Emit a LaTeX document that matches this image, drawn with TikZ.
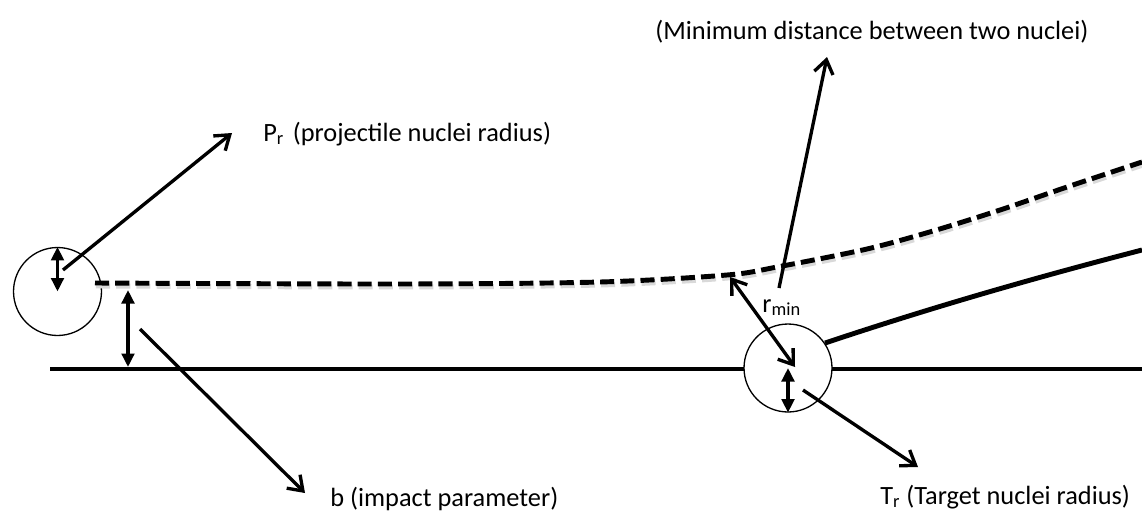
\documentclass[tikz,border=0pt]{standalone}
\usepackage{fontspec}
\setmainfont{Carlito}
\usetikzlibrary{arrows.meta}

\tikzset{
  nucleus/.style={circle,draw,line width=0.75pt,fill=white,minimum size=1.76cm,inner sep=0pt},
  barb/.tip={Straight Barb[length=2.7mm,width=3.8mm]},
  pointer/.style={-barb,line width=1.9pt},
  twoway/.style={barb-barb,line width=1.9pt},
  radarrow/.style={{Triangle[length=2.7mm,width=2.5mm]}-{Triangle[length=2.7mm,width=2.5mm]},line width=1.9pt},
  lbl/.style={inner sep=0pt,anchor=base west,font=\fontsize{15}{18}\selectfont},
  trajectory/.style={line width=2.8pt,dash pattern=on 8pt off 3.5pt},
}

\begin{document}
\begin{tikzpicture}[x=0.02cm,y=-0.02cm]
  \useasboundingbox (0,0) rectangle (1142,511);
  % beam axis and recoil path
  \draw[line width=2.8pt] (50,369) -- (1142,369);
  \draw[line width=2.8pt] (825,343) .. controls (930,308) and (1030,279) .. (1142,250);
  \node[nucleus] (proj) at (57.5,291.5) {};
  \node[nucleus] (targ) at (788,368) {};
  % projectile path, with its soft shadow
  \draw[trajectory,gray!30,shift={(1,3)}] plot[smooth] coordinates {(95,283) (400,284) (600,282) (727,275) (777,267) (867,249) (933,231) (1000,210) (1067,187) (1142,162)};
  \draw[trajectory] plot[smooth] coordinates {(95,283) (400,284) (600,282) (727,275) (777,267) (867,249) (933,231) (1000,210) (1067,187) (1142,162)};

  \node[lbl] (prLbl) at (263,141) {P\textsubscript{r}\hspace{0.1em} (projectile nuclei radius)};
  \node[lbl] (minLbl) at (655,39) {(Minimum distance between two nuclei)};
  \node[lbl] (rminLbl) at (762,312) {r\textsubscript{min}};
  \node[lbl] (trLbl) at (880,504) {T\textsubscript{r} (Target nuclei radius)};
  \node[lbl] (bLbl) at (330,506) {b (impact parameter)};

  \coordinate (prTail) at (63,270);
  \coordinate (prTip) at (232,133);
  \coordinate (minTail) at (779,288);
  \coordinate (minTip) at (827,57);
  \coordinate (rTop) at (730,277);
  \coordinate (rBot) at (795,367);
  \coordinate (trTail) at (803,390);
  \coordinate (trTip) at (918,467);
  \coordinate (bTail) at (140,329);
  \coordinate (bTip) at (305,493);
  \coordinate (bTop) at (128,290);
  \coordinate (bBot) at (128,367);

  \draw[radarrow] (proj.center) -- (proj.north);
  \draw[radarrow] (targ.center) -- (targ.south);
  \draw[radarrow] (bTop) -- (bBot);
  \draw[twoway] (rTop) -- (rBot);
  \draw[pointer] (prTail) -- (prTip);
  \draw[pointer] (minTail) -- (minTip);
  \draw[pointer] (trTail) -- (trTip);
  \draw[pointer] (bTail) -- (bTip);
\end{tikzpicture}
\end{document}
